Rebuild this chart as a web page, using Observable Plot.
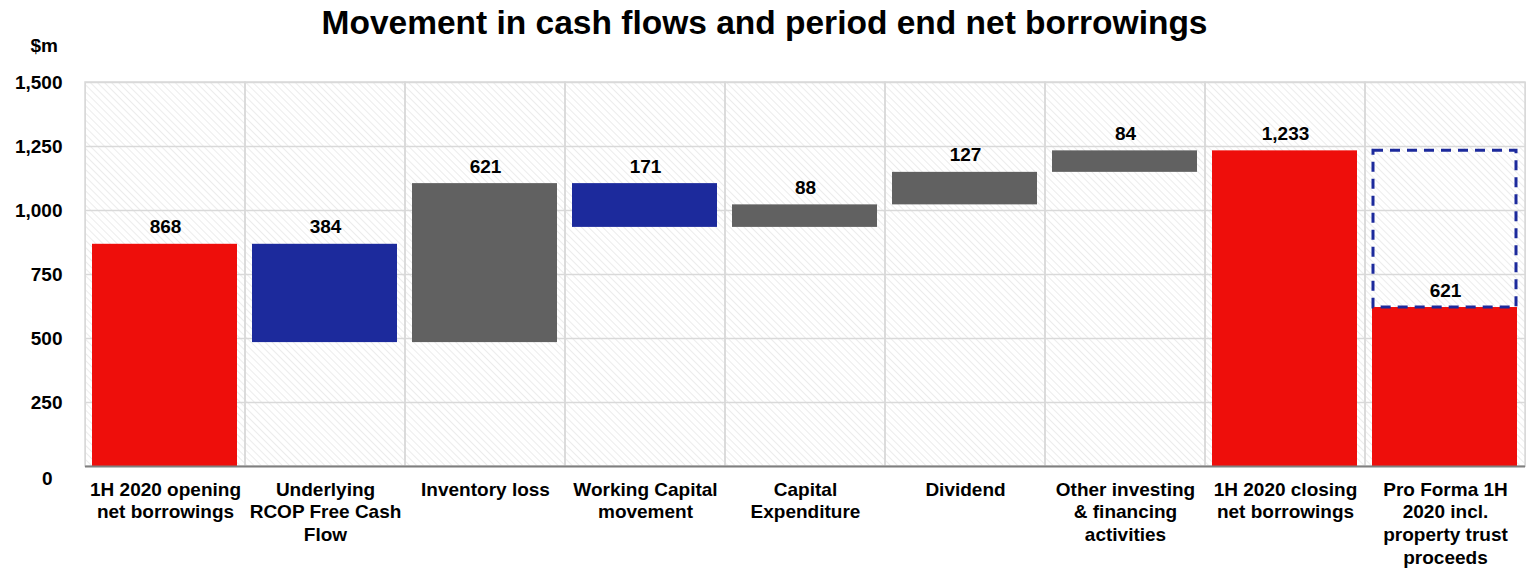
<!DOCTYPE html>
<html>
<head>
<meta charset="utf-8">
<script src="https://cdn.jsdelivr.net/npm/d3@7"></script>
<script src="https://cdn.jsdelivr.net/npm/@observablehq/plot@0.6"></script>
<style>
  html, body { margin: 0; padding: 0; background: #fff; }
  #chart svg { display: block; }
</style>
</head>
<body>
<div id="chart"></div>
<script>
const titleText = "Movement in cash flows and period end net borrowings";
const unitLabel = "$m";
const categories = [
  "1H 2020 opening\nnet borrowings",
  "Underlying\nRCOP Free Cash\nFlow",
  "Inventory loss",
  "Working Capital\nmovement",
  "Capital\nExpenditure",
  "Dividend",
  "Other investing\n& financing\nactivities",
  "1H 2020 closing\nnet borrowings",
  "Pro Forma 1H\n2020 incl.\nproperty trust\nproceeds"
];
const values = [868, 384, 621, 171, 88, 127, 84, 1233, 621];
// total = from zero, down = reduces borrowings, up = increases borrowings
const kinds = ["total", "down", "up", "down", "up", "up", "up", "total", "total"];
const yTicks = [0, 250, 500, 750, 1000, 1250, 1500];

const colors = {total: "#ee0e0b", down: "#1c2a9c", up: "#616161"};

// build waterfall rows
let running = 0;
const rows = categories.map((c, i) => {
  const v = values[i], k = kinds[i];
  let y1, y2;
  if (k === "total") { y1 = 0; y2 = v; }
  else if (k === "up") { y1 = running; y2 = running + v; }
  else { y1 = running - v; y2 = running; }
  running = k === "total" ? v : (k === "up" ? running + v : running - v);
  return {cat: c, value: v, kind: k, y1, y2, top: Math.max(y1, y2)};
});
// pro forma dashed box: from pro forma value up to the closing total
const last = rows[rows.length - 1];
const dashed = [{cat: last.cat, y1: last.value, y2: rows[rows.length - 2].value}];

const fontFamily = "'Liberation Sans', Arial, sans-serif";
const fmt = d3.format(",");

const plot = Plot.plot({
  width: 1530,
  height: 570,
  marginLeft: 85,
  marginRight: 5,
  marginTop: 82,
  marginBottom: 104,
  style: {fontFamily, fontSize: "19px", fontWeight: "bold", color: "#000", background: "#fff"},
  x: {domain: categories, padding: 0, axis: null},
  y: {domain: [0, 1500], axis: null},
  marks: [
    Plot.frame({fill: "url(#hatch)", stroke: "#d9d9d9"}),
    Plot.ruleY(yTicks.filter(d => d > 0), {stroke: "#d9d9d9", strokeWidth: 1.5}),
    Plot.barY(categories, {x: d => d, y1: 0, y2: 1500, fill: "none", stroke: "#d9d9d9", strokeWidth: 1.5}),
    Plot.barY(rows, {x: "cat", y1: "y1", y2: "y2", fill: d => colors[d.kind], insetLeft: 7, insetRight: 8}),
    Plot.barY(dashed, {x: "cat", y1: "y1", y2: "y2", fill: "none", stroke: "#1c2a9c", strokeWidth: 3, strokeDasharray: "10,7", insetLeft: 8, insetRight: 9}),
    Plot.ruleY([0], {stroke: "#7f7f7f", strokeWidth: 2}),
    Plot.text(rows, {x: "cat", y: "top", text: d => fmt(d.value), dy: -17, fontSize: 19}),
    Plot.text(categories, {x: d => d, y: 0, text: d => d, lineAnchor: "top", dy: 13, fontSize: 19, lineHeight: 1.2}),
    Plot.text(yTicks.filter(d => d > 0), {y: d => d, text: d => fmt(d), frameAnchor: "left", textAnchor: "end", dx: -23, fontSize: 19}),
    Plot.text(yTicks.filter(d => d === 0), {y: d => d, text: d => fmt(d), frameAnchor: "left", textAnchor: "end", dx: -33, dy: 12, fontSize: 19}),
    Plot.text([titleText], {frameAnchor: "top", lineAnchor: "middle", dx: -41, dy: -59, fontSize: 33.5, text: d => d}),
    Plot.text([unitLabel], {frameAnchor: "top-left", lineAnchor: "middle", dx: -55, dy: -37, fontSize: 19, textAnchor: "start", text: d => d})
  ]
});

// hatch pattern for plot background
const ns = "http://www.w3.org/2000/svg";
const defs = document.createElementNS(ns, "defs");
const pat = document.createElementNS(ns, "pattern");
pat.setAttribute("id", "hatch");
pat.setAttribute("patternUnits", "userSpaceOnUse");
pat.setAttribute("width", "5");
pat.setAttribute("height", "5");
pat.setAttribute("patternTransform", "rotate(-45)");
const bg = document.createElementNS(ns, "rect");
bg.setAttribute("width", "5"); bg.setAttribute("height", "5"); bg.setAttribute("fill", "#ffffff");
const ln = document.createElementNS(ns, "line");
ln.setAttribute("x1", "0"); ln.setAttribute("y1", "0"); ln.setAttribute("x2", "0"); ln.setAttribute("y2", "5");
ln.setAttribute("stroke", "#ececec"); ln.setAttribute("stroke-width", "2");
pat.appendChild(bg); pat.appendChild(ln); defs.appendChild(pat);
plot.insertBefore(defs, plot.firstChild);

document.getElementById("chart").appendChild(plot);
</script>
</body>
</html>
